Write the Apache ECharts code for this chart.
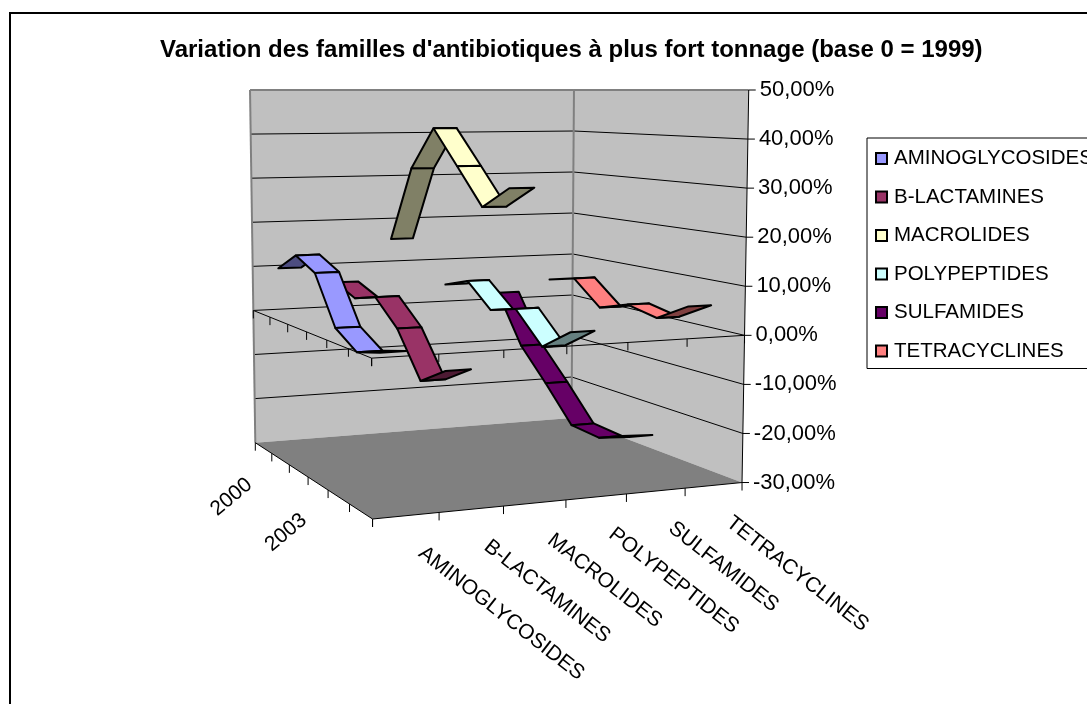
<!DOCTYPE html>
<html>
<head>
<meta charset="utf-8">
<style>
  html, body { margin: 0; padding: 0; background: #fff; }
  #chart { width: 1087px; height: 704px; }
</style>
<script src="https://cdn.jsdelivr.net/npm/echarts@6/dist/echarts.min.js"></script>
</head>
<body>
<div id="chart"></div>
<script>
const families = ['AMINOGLYCOSIDES', 'B-LACTAMINES', 'MACROLIDES', 'POLYPEPTIDES', 'SULFAMIDES', 'TETRACYCLINES'];
const years = ['2000', '', '', '2003', '', ''];
const valueTicks = [50, 40, 30, 20, 10, 0, -10, -20, -30];

// variation en % par année (2000 -> 2005)
const aminoglycosides = [10.0, 14.0, 11.4, 1.4, -1.8, -0.1];
const blactamines = [6.3, 4.1, 5.7, 0.6, -8.3, -4.4];
const macrolides = [15.7, 32.5, 41.7, 34.0, 26.2, 30.7];
const polypeptides = [4.7, 6.8, 1.7, 3.4, -2.9, 1.7];
const sulfamides = [2.2, -8.6, -15.2, -22.3, -22.7, -20.2];
const tetracyclines = [4.8, 6.3, 1.0, 3.1, 1.7, 5.6];

const seriesValues = [aminoglycosides, blactamines, macrolides, polypeptides, sulfamides, tetracyclines];
const topColors = ['#9999FF', '#993366', '#FFFFCC', '#CCFFFF', '#660066', '#FF8080'];
const underColors = ['#4D4D80', '#4D1A33', '#808066', '#668080', '#330033', '#804040'];

const FONT = '"Liberation Sans", Arial, sans-serif';
const gridLeft = 372.5, gridWidth = 369.5, gridTop = 90, gridHeight = 391;

// coins du sol (perspective) : famille u, année w, de 0 à 1
const H = { a: 362.1, b: 49.7, c: 255.3, d: 8.9, e: -17.8, f: 442.7, g: 0.08034, h: -0.18132 };

// la famille et la valeur passent par les axes, puis on applique la perspective du graphique 3D
function project(api, fam, yr, val) {
  const p = api.coord([fam, val]);
  const u = (p[0] - gridLeft) / gridWidth;
  const t = (p[1] - gridTop) / gridHeight;
  const w = yr / 6;
  const den = H.g * u + H.h * w + 1;
  const fx = (H.a * u + H.b * w + H.c) / den;
  const fy = (H.d * u + H.e * w + H.f) / den;
  const s = (fx - 470) * 0.0246;
  return [fx + (1 - t) * s, gridTop + t * (fy - gridTop)];
}

function poly(points, fill, stroke, lw) {
  return {
    type: 'polygon',
    shape: { points: points },
    style: { fill: fill, stroke: stroke || null, lineWidth: lw || 0, lineJoin: 'round' }
  };
}
function seg(a, b, color, lw) {
  return {
    type: 'line',
    shape: { x1: a[0], y1: a[1], x2: b[0], y2: b[1] },
    style: { stroke: color, lineWidth: lw || 1 }
  };
}

function renderFrame(params, api) {
  const P = (f, y, v) => project(api, f, y, v);
  const kids = [];
  const L0 = P(0, 0, -30), N0 = P(0, 6, -30), R0 = P(6, 6, -30), B0 = P(6, 0, -30);
  const L1 = P(0, 0, 50), R1 = P(6, 6, 50), B1 = P(6, 0, 50);

  // murs et sol
  kids.push(poly([L1, B1, B0, L0], '#C0C0C0'));
  kids.push(poly([B1, R1, R0, B0], '#C0C0C0'));
  kids.push(poly([L0, B0, R0, N0], '#808080'));

  // quadrillage
  valueTicks.forEach(v => {
    if (v === 50 || v === -30) return;
    kids.push(seg(P(0, 0, v), P(6, 0, v), '#000'));
    kids.push(seg(P(6, 0, v), P(6, 6, v), '#000'));
  });

  // contours gris
  kids.push(seg(L1, L0, '#808080', 2));
  kids.push(seg(B1, B0, '#808080', 2));
  kids.push(seg(L1, B1, '#808080', 2));
  kids.push(seg(B1, R1, '#808080', 2));

  // bords avant du sol + graduations
  kids.push(seg(L0, N0, '#000'));
  kids.push(seg(N0, R0, '#000'));
  // axes au niveau 0
  kids.push(seg(P(0, 0, 0), P(0, 6, 0), '#000'));
  kids.push(seg(P(0, 6, 0), P(6, 6, 0), '#000'));
  for (let k = 0; k <= 6; k++) {
    [-30, 0].forEach(v => {
      const a = P(0, k, v), b = P(k, 6, v);
      kids.push(seg(a, [a[0], a[1] + 8], '#000'));
      kids.push(seg(b, [b[0], b[1] + 8], '#000'));
    });
  }

  // axe des valeurs
  kids.push(seg(R1, R0, '#000'));
  valueTicks.forEach(v => {
    const a = P(6, 6, v);
    kids.push(seg(a, [a[0] + 7, a[1]], '#000'));
    kids.push({
      type: 'text',
      style: {
        x: a[0] + 11, y: a[1], text: v.toFixed(2).replace('.', ',') + '%',
        font: '22px ' + FONT, fill: '#000', align: 'left', verticalAlign: 'middle'
      }
    });
  });

  // étiquettes inclinées
  families.forEach((name, i) => {
    const a = P(i + 0.5, 6, -30);
    kids.push({
      type: 'text', x: a[0] + 15, y: a[1] + 35, rotation: -38 * Math.PI / 180,
      style: { x: 0, y: 0, text: name, font: '21px ' + FONT, fill: '#000', align: 'left', verticalAlign: 'middle' }
    });
  });
  years.forEach((name, j) => {
    if (!name) return;
    const a = P(0, j + 0.5, -30);
    kids.push({
      type: 'text', x: a[0] - 14, y: a[1] + 34, rotation: 40 * Math.PI / 180,
      style: { x: 0, y: 0, text: name, font: '21px ' + FONT, fill: '#000', align: 'right', verticalAlign: 'middle' }
    });
  });
  return { type: 'group', children: kids };
}

const halfWidth = 0.2;
function renderRibbon(params, api) {
  const next = api.value(3);
  if (isNaN(next)) return null;
  const i = api.value(0), j = api.value(1), v = api.value(2);
  const c = i + 0.5, y0 = j + 0.5, y1 = j + 1.5;
  const a = project(api, c - halfWidth, y0, v);
  const b = project(api, c + halfWidth, y0, v);
  const d = project(api, c + halfWidth, y1, next);
  const e = project(api, c - halfWidth, y1, next);
  const cross = (b[0] - a[0]) * (d[1] - a[1]) - (b[1] - a[1]) * (d[0] - a[0]);
  return poly([a, b, d, e], cross > 0 ? topColors[i] : underColors[i], '#000', 2);
}

const series = [{
  type: 'custom',
  name: 'cadre',
  silent: true,
  z: 1,
  data: [[0, 0]],
  encode: { x: 0, y: 1 },
  renderItem: renderFrame
}];
families.forEach((name, i) => {
  const vals = seriesValues[i];
  series.push({
    type: 'custom',
    name: name,
    z: 10 - i,
    itemStyle: { color: topColors[i] },
    data: vals.map((v, j) => [i, j, v, j + 1 < vals.length ? vals[j + 1] : NaN]),
    encode: { x: 0, y: 2 },
    renderItem: renderRibbon
  });
});

const chart = echarts.init(document.getElementById('chart'));
chart.setOption({
  animation: false,
  backgroundColor: '#fff',
  title: {
    text: "Variation des familles d'antibiotiques à plus fort tonnage (base 0 = 1999)",
    left: 155, top: 33,
    textStyle: { fontFamily: FONT, fontWeight: 'bold', fontSize: 24, color: '#000' }
  },
  legend: {
    data: families,
    orient: 'vertical',
    left: 867, top: 138,
    padding: [10, 12, 7, 8],
    itemWidth: 11, itemHeight: 11, itemGap: 17.5,
    icon: 'rect',
    selectedMode: false,
    borderColor: '#000', borderWidth: 1,
    itemStyle: { borderColor: '#000', borderWidth: 2 },
    textStyle: { fontFamily: FONT, fontSize: 20.5, color: '#000', padding: [0, 0, 0, 2] }
  },
  grid: { left: gridLeft, top: gridTop, width: gridWidth, height: gridHeight },
  xAxis: { type: 'value', min: 0, max: 6, show: false },
  yAxis: { type: 'value', min: -30, max: 50, interval: 10, show: false },
  graphic: [{
    type: 'rect', silent: true, z: 100,
    shape: { x: 10, y: 13, width: 1200, height: 900 },
    style: { fill: null, stroke: '#000', lineWidth: 2 }
  }],
  series: series
});
</script>
</body>
</html>
